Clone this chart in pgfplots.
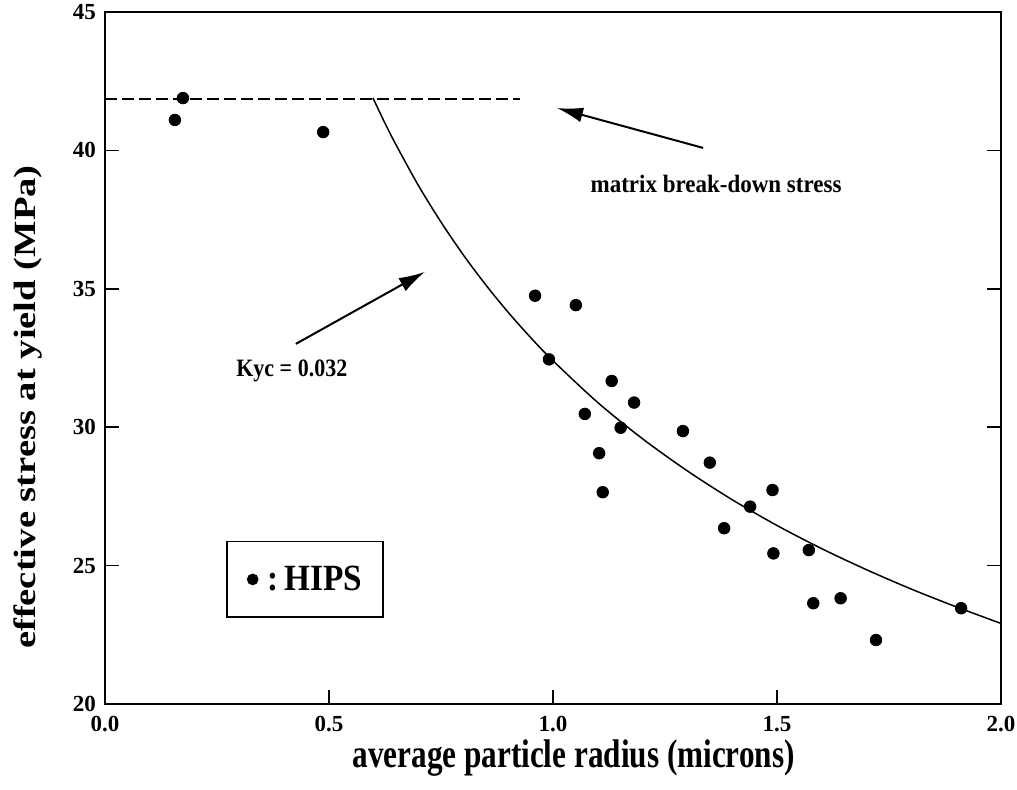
\documentclass[border=0pt]{standalone}
\usepackage{fontspec}
\setmainfont{Liberation Serif}
\usepackage{pgfplots}
\pgfplotsset{compat=1.18}
\usetikzlibrary{arrows.meta}
\begin{document}
\begin{tikzpicture}
\begin{axis}[
  scale only axis, width=448pt, height=346pt,
  xmin=0, xmax=2, ymin=20, ymax=45,
  xtick={0,0.5,1,1.5,2}, xticklabels={0.0,0.5,1.0,1.5,2.0},
  ytick={20,25,30,35,40,45}, yticklabels={20,25,30,35,40,45},
  xtick pos=left, ytick pos=both, yticklabel pos=left, tick align=inside,
  major tick length=7pt,
  axis line style={line width=1pt},
  every tick/.style={black, line width=0.8pt},
  ticklabel style={font=\fontsize{11.5}{13}\selectfont\bfseries},
  xticklabel style={yshift=-2.5pt},
  yticklabel style={xshift=-1pt},
  /pgf/number format/assume math mode=true,
  xlabel={\scalebox{0.78}[1]{average particle radius (microns)}},
  ylabel={\scalebox{1}[0.8]{effective stress at yield (MPa)}},
  xlabel style={at={(axis description cs:0.523,-0.078)}, anchor=center, font=\fontsize{20}{24}\selectfont\bfseries},
  ylabel style={at={(axis description cs:-0.086,0.429)}, anchor=center, font=\fontsize{19.3}{23}\selectfont\bfseries},
  legend style={at={(axis cs:0.446,24.5)}, anchor=center, draw=black, line width=0.8pt,
    inner xsep=10.5pt, inner ysep=12pt, font=\fontsize{18.5}{20}\selectfont\bfseries,
    nodes={inner sep=0pt}, column sep=5pt},
  legend image code/.code={\draw[#1] plot coordinates {(0pt,0pt)};},
]
\addplot[black, line width=0.7pt, dash pattern=on 6pt off 2.5pt, forget plot] coordinates {(0,41.86) (0.926,41.86)};
\addplot[black, line width=0.75pt, smooth, forget plot] coordinates {
(0.598,41.90) (0.625,40.98) (0.65,40.19) (0.7,38.72) (0.75,37.41) (0.8,36.22) (0.85,35.14) (0.9,34.15) (0.95,33.24) (1.0,32.40) (1.1,30.89) (1.2,29.58) (1.3,28.42) (1.4,27.38) (1.5,26.45) (1.6,25.61) (1.7,24.85) (1.8,24.15) (1.9,23.51) (2.0,22.91)};
\addplot[only marks, mark=*, mark size=2.9pt, black, legend image post style={mark size=2.5pt}] coordinates {
(0.156,41.10) (0.174,41.89) (0.487,40.66) (0.960,34.75) (1.051,34.41) (0.991,32.45) (1.131,31.67) (1.181,30.89) (1.071,30.48) (1.151,29.98) (1.290,29.86) (1.103,29.06) (1.111,27.65) (1.350,28.72) (1.490,27.73) (1.440,27.13) (1.382,26.35) (1.492,25.44) (1.571,25.56) (1.581,23.64) (1.642,23.82) (1.721,22.31) (1.911,23.46)};
\addlegendentry{\scalebox{0.9}[1]{:\hspace{3pt}HIPS}}
\draw[line width=1pt, -{Latex[length=13pt,width=7.5pt]}] (axis cs:1.335,40.09) -- (axis cs:1.009,41.53);
\draw[line width=1pt, -{Latex[length=13pt,width=7.5pt]}] (axis cs:0.426,33.01) -- (axis cs:0.714,35.61);
\node[font=\fontsize{12.5}{14}\selectfont\bfseries] at (axis cs:1.364,38.80) {\scalebox{0.92}[1]{matrix break-down stress}};
\node[font=\fontsize{12.5}{14}\selectfont\bfseries] at (axis cs:0.417,32.03) {\scalebox{0.88}[1]{Kyc = 0.032}};
\end{axis}
\pgfresetboundingbox
\path (-52.5pt,-43pt) rectangle (456pt,352pt);
\end{tikzpicture}
\end{document}
